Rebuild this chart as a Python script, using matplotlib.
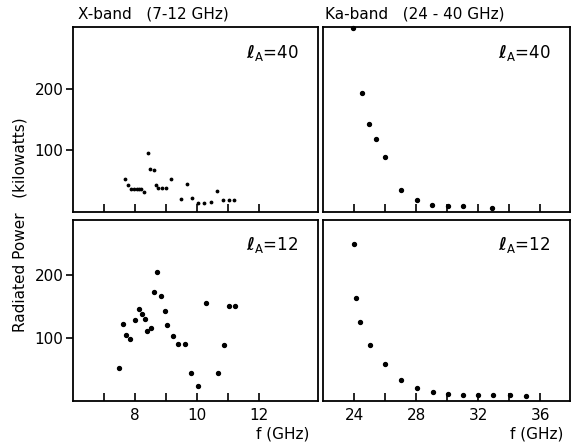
import matplotlib
matplotlib.use("Agg")
import matplotlib.pyplot as plt

# X-band, l_A = 40
xb40_f = [7.67, 7.77, 7.87, 7.97, 8.05, 8.13, 8.20, 8.30, 8.43, 8.48, 8.61, 8.68, 8.75,
          8.88, 8.99, 9.17, 9.47, 9.68, 9.83, 10.04, 10.24, 10.46, 10.65, 10.84, 11.03, 11.20]
xb40_p = [53, 43, 38, 38, 38, 38, 38, 32, 95, 69, 68, 43, 39,
          39, 39, 54, 21, 46, 23, 15, 15, 17, 34, 20, 20, 20]
# Ka-band, l_A = 40
ka40_f = [23.96, 24.49, 24.98, 25.39, 26.01, 27.01, 28.02, 29.0, 30.03, 31.0, 32.9]
ka40_p = [298, 193, 143, 119, 90, 36, 20, 11, 10, 9, 6.5]
# X-band, l_A = 12
xb12_f = [7.49, 7.61, 7.71, 7.85, 8.01, 8.12, 8.23, 8.32, 8.40, 8.51, 8.61, 8.71, 8.85,
          8.96, 9.02, 9.24, 9.40, 9.61, 9.81, 10.02, 10.28, 10.67, 10.87, 11.03, 11.21]
xb12_p = [52, 122, 105, 99, 129, 147, 138, 130, 111, 116, 174, 206, 167,
          143, 121, 104, 90, 90, 45, 24, 156, 45, 89, 151, 151]
# Ka-band, l_A = 12
ka12_f = [24.0, 24.13, 24.41, 25.03, 26.01, 27.01, 28.08, 29.06, 30.03, 31.03, 32.0,
          32.97, 34.04, 35.07]
ka12_p = [250, 164, 126, 89, 59, 34, 21, 15, 11, 10, 10, 10, 10, 8.5]

x_ticks_x = [7, 8, 9, 10, 11, 12]
x_labels_x = ["", "8", "", "10", "", "12"]
ka_ticks = [24, 26, 28, 30, 32, 34, 36]
ka_labels = ["24", "", "28", "", "32", "", "36"]
y_ticks = [100, 200]
y_labels = ["100", "200"]

plt.rcParams['font.family'] = ['DejaVu Sans']
fig = plt.figure(figsize=(5.79, 4.47), dpi=100)
W, H = 579, 447

def ax_px(x0, y0, x1, y1):
    return fig.add_axes([x0 / W, 1 - y1 / H, (x1 - x0) / W, (y1 - y0) / H])

ax_tl = ax_px(73, 27, 318, 212)
ax_tr = ax_px(323, 27, 570, 212)
ax_bl = ax_px(73, 220, 318, 401)
ax_br = ax_px(323, 220, 570, 401)

fs = 11
for ax in (ax_tl, ax_tr, ax_bl, ax_br):
    for s in ax.spines.values():
        s.set_linewidth(1.3)
        s.set_color('black')
    ax.tick_params(axis='x', direction='in', length=6, width=1.2, labelsize=fs, pad=5,
                   top=False)
    ax.tick_params(axis='y', direction='out', length=5, width=1.2, labelsize=fs, pad=2,
                   right=False)

for ax in (ax_tl, ax_bl):
    ax.set_xlim(6.0, 13.9)
    ax.set_xticks(x_ticks_x)
    ax.set_yticks(y_ticks)
    ax.set_yticklabels(y_labels)
for ax in (ax_tr, ax_br):
    ax.set_xlim(22.0, 37.9)
    ax.set_xticks(ka_ticks)
    ax.set_yticks([])

ax_tl.set_ylim(0, 300)
ax_tr.set_ylim(0, 300)
ax_bl.set_ylim(0, 288)
ax_br.set_ylim(0, 288)

ax_tl.set_xticklabels([""] * len(x_ticks_x))
ax_tr.set_xticklabels([""] * len(ka_ticks))
ax_bl.set_xticklabels(x_labels_x)
ax_br.set_xticklabels(ka_labels)

ax_tl.scatter(xb40_f, xb40_p, s=3, color='black', zorder=3, clip_on=False)
ax_tr.scatter(ka40_f, ka40_p, s=8, color='black', zorder=3, clip_on=False)
ax_bl.scatter(xb12_f, xb12_p, s=8, color='black', zorder=3, clip_on=False)
ax_br.scatter(ka12_f, ka12_p, s=8, color='black', zorder=3, clip_on=False)

for ax, lab in ((ax_tl, "40"), (ax_tr, "40"), (ax_bl, "12"), (ax_br, "12")):
    ax.text(0.92, 0.86, r"$\boldsymbol{\ell}_{\mathrm{A}}$" + "=" + lab, transform=ax.transAxes,
            ha='right', va='center', fontsize=12)

fig.text(78 / W, 1 - 14 / H, "X-band   (7-12 GHz)", ha='left', va='center', fontsize=11)
fig.text(325 / W, 1 - 14 / H, "Ka-band   (24 - 40 GHz)", ha='left', va='center', fontsize=11)
fig.text(20 / W, 1 - 225 / H, "Radiated Power   (kilowatts)", rotation=90,
         ha='center', va='center', fontsize=11)
fig.text(283 / W, 1 - 434 / H, "f (GHz)", ha='center', va='center', fontsize=11)
fig.text(537 / W, 1 - 434 / H, "f (GHz)", ha='center', va='center', fontsize=11)

fig.savefig("out.png", dpi=100)
